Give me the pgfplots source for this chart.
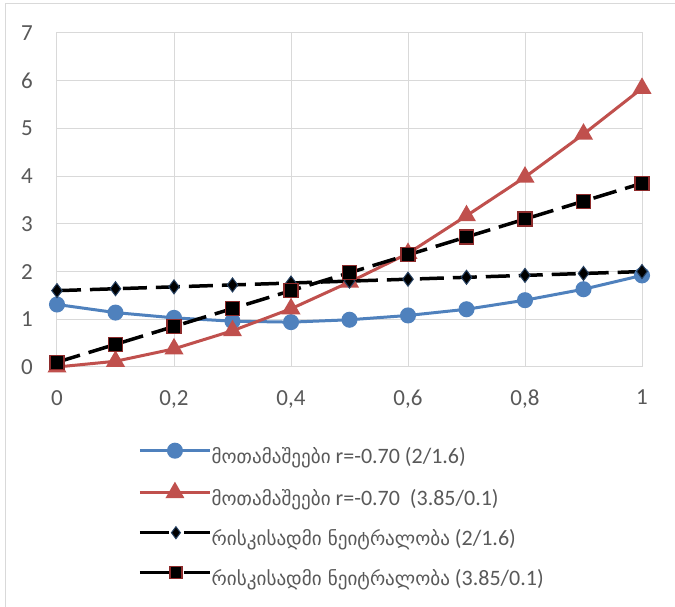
\documentclass[border=0pt]{standalone}
\usepackage{pgfplots}
\pgfplotsset{compat=1.18}
\usepackage{fontspec}
\setmainfont{Carlito}
\newfontfamily\geo[Scale=0.87]{DejaVu Sans}
\definecolor{txt}{HTML}{595959}
\definecolor{gridc}{HTML}{D9D9D9}
\definecolor{cblue}{HTML}{4F81BD}
\definecolor{cred}{HTML}{C0504D}
\definecolor{dkred}{HTML}{8C2B2B}
\definecolor{dkblue}{HTML}{254061}
\pgfplotsset{
  solidleg/.style={legend image code/.code={\draw[##1] (0pt,8pt) -- (70pt,8pt); \path[##1] plot coordinates {(35pt,8pt)};}},
  dashleg/.style={legend image code/.code={\draw[##1, solid] (0pt,8pt) -- (29pt,8pt); \draw[##1, solid] (44pt,8pt) -- (70pt,8pt); \path[##1, mark size=6pt] plot coordinates {(36pt,8pt)};}},
}
\begin{document}
\begin{tikzpicture}[x=1pt,y=1pt]
\useasboundingbox (0,0) rectangle (675,607);
\fill[white] (0,0) rectangle (675,607);
\draw[gridc,line width=1pt] (5.5,0) -- (5.5,603) -- (675,603);
\begin{axis}[
  at={(57pt,240pt)}, anchor=south west,
  scale only axis, width=585pt, height=334pt,
  xmin=0, xmax=1, ymin=0, ymax=7,
  xtick={0,0.2,0.4,0.6,0.8,1}, ytick={0,1,...,7},
  /pgf/number format/use comma,
  /pgf/number format/assume math mode=true,
  grid=major, major grid style={gridc,line width=1pt},
  axis line style={gridc,line width=1pt},
  tick style={draw=none},
  tick label style={font=\fontsize{23}{27}\selectfont, text=txt, inner sep=0pt},
  xticklabel style={yshift=-23pt},
  yticklabel style={xshift=-24pt},
  clip=false,
  legend style={at={(axis description cs:0.13846,-0.2305)}, anchor=north west,
    draw=none, fill=none, inner sep=0pt, row sep=15pt,
    font=\fontsize{22}{26}\selectfont, text=txt,
    nodes={inner sep=0pt, text height=16pt, text depth=6pt},
    /tikz/every even column/.append style={column sep=7pt}},
  legend cell align=left,
]
\addplot[cblue, line width=3pt, mark=*, mark size=6.5pt, solidleg]
coordinates {(0,1.31) (0.1,1.14) (0.2,1.03) (0.3,0.96) (0.4,0.94) (0.5,0.99) (0.6,1.08) (0.7,1.21) (0.8,1.40) (0.9,1.63) (1,1.92)};
\addlegendentry{{\geo მოთამაშეები} r=-0.70 (2/1.6)}
\addplot[cred, line width=3pt, mark=triangle*, mark size=8pt, solidleg]
coordinates {(0,0.0) (0.1,0.12) (0.2,0.38) (0.3,0.76) (0.4,1.22) (0.5,1.78) (0.6,2.38) (0.7,3.17) (0.8,3.98) (0.9,4.88) (1,5.84)};
\addlegendentry{{\geo მოთამაშეები} r=-0.70\ \ (3.85/0.1)}
\addplot[black, line width=3.5pt, dash pattern=on 24pt off 9pt, mark=diamond*, mark size=7pt,
  mark options={solid, fill=black, draw=dkblue, line width=1pt}, dashleg]
coordinates {(0,1.6) (0.1,1.64) (0.2,1.68) (0.3,1.72) (0.4,1.76) (0.5,1.8) (0.6,1.84) (0.7,1.88) (0.8,1.92) (0.9,1.96) (1,2.0)};
\addlegendentry{{\geo რისკისადმი ნეიტრალობა} (2/1.6)}
\addplot[black, line width=3.5pt, dash pattern=on 24pt off 9pt, mark=square*, mark size=7pt,
  mark options={solid, fill=black, draw=dkred, line width=1.2pt}, dashleg]
coordinates {(0,0.1) (0.1,0.475) (0.2,0.85) (0.3,1.225) (0.4,1.6) (0.5,1.975) (0.6,2.35) (0.7,2.725) (0.8,3.1) (0.9,3.475) (1,3.85)};
\addlegendentry{{\geo რისკისადმი ნეიტრალობა} (3.85/0.1)}
\end{axis}
\end{tikzpicture}
\end{document}
